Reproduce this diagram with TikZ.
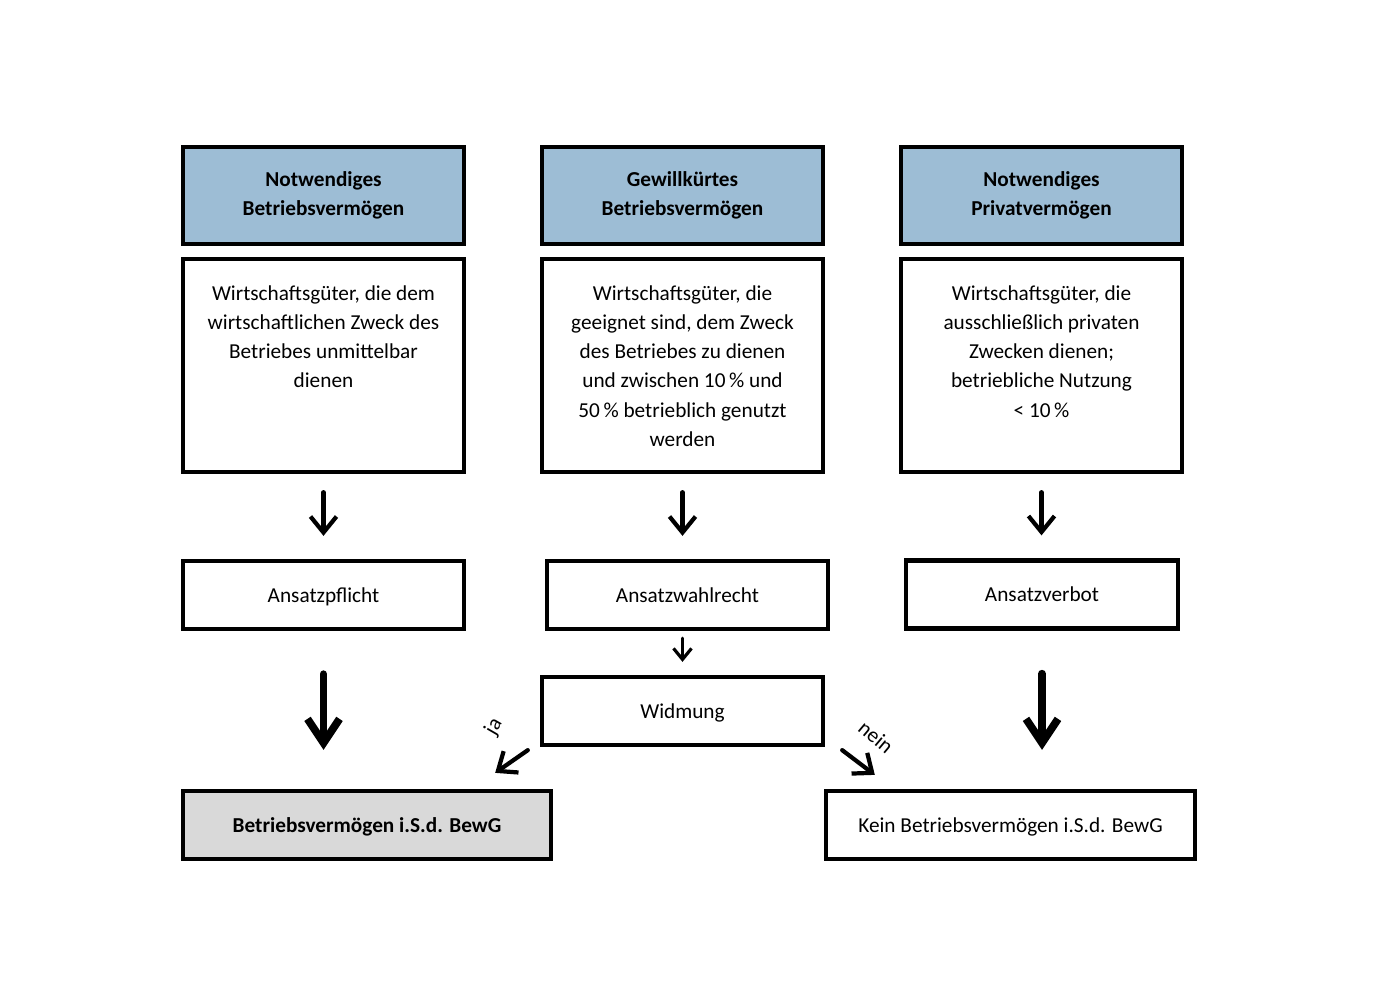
\documentclass[tikz,border=0pt]{standalone}
\usepackage{fontspec}
\setmainfont{Carlito}
\usetikzlibrary{arrows.meta}

\definecolor{hdrblue}{HTML}{9DBDD5}
\definecolor{resgray}{HTML}{D9D9D9}

\begin{document}
\begin{tikzpicture}[
  x=0.01cm, y=-0.01cm, font=\fontsize{6.05}{8.3}\selectfont,
  box/.style={rectangle, draw=black, line width=1.2pt, inner sep=0pt,
              align=center},
  hdr/.style={box, fill=hdrblue, minimum width=2.81cm, minimum height=0.97cm,
              font=\fontsize{6.05}{8.3}\selectfont\bfseries},
  desc/.style={box, minimum width=2.81cm, minimum height=2.13cm},
  desctxt/.style={anchor=north, inner sep=0pt, align=center},
  rule/.style={box, minimum height=0.68cm, text height=1.45ex, text depth=0.6ex},
  res/.style={box, minimum width=3.68cm, minimum height=0.68cm,
              text height=1.45ex, text depth=0.6ex},
  arr/.style={line width=1.2pt, line cap=round,
              -{Straight Barb[length=1.6mm, width=2.6mm, line width=1.2pt]}},
  bigarr/.style={line width=2.2pt, line cap=round,
              -{Straight Barb[length=2.4mm, width=3.2mm, line width=2.2pt]}},
  thinarr/.style={line width=0.9pt, line cap=round,
              -{Straight Barb[length=1.1mm, width=1.8mm, line width=0.9pt]}},
  lab/.style={inner sep=0pt}]

  \useasboundingbox (0,0) rectangle (1400,990);

  % ---- headers ----------------------------------------------------------
  \node[hdr] (h1) at (323.5,195.5) {Notwendiges\\Betriebsvermögen};
  \node[hdr] (h2) at (682.5,195.5) {Gewillkürtes\\Betriebsvermögen};
  \node[hdr] (h3) at (1041.5,195.5) {Notwendiges\\Privatvermögen};

  % ---- descriptions -----------------------------------------------------
  \node[desc] (d1) at (323.5,365.5) {};
  \node[desc] (d2) at (682.5,365.5) {};
  \node[desc] (d3) at (1041.5,365.5) {};
  \node[desctxt] (t1) at ([yshift=-0.28cm]d1.north)
    {Wirtschaftsgüter, die dem\\wirtschaftlichen Zweck des\\Betriebes unmittelbar\\dienen};
  \node[desctxt] (t2) at ([yshift=-0.28cm]d2.north)
    {Wirtschaftsgüter, die\\geeignet sind, dem Zweck\\des Betriebes zu dienen\\und zwischen 10\,\% und\\50\,\% betrieblich genutzt\\werden};
  \node[desctxt] (t3) at ([yshift=-0.28cm]d3.north)
    {Wirtschaftsgüter, die\\ausschließlich privaten\\Zwecken dienen;\\betriebliche Nutzung\\< 10\,\%};

  % ---- rules ------------------------------------------------------------
  \node[rule, minimum width=2.81cm] (a1) at (323.5,595) {Ansatzpflicht};
  \node[rule, minimum width=2.81cm] (a2) at (687.5,595) {Ansatzwahlrecht};
  \node[rule, minimum width=2.72cm] (a3) at (1042,594.5) {Ansatzverbot};
  \node[rule, minimum width=2.81cm] (wid) at (682.5,711) {Widmung};

  % ---- results ----------------------------------------------------------
  \node[res, fill=resgray, font=\fontsize{6.05}{8.3}\selectfont\bfseries] (bv)
    at (367,825) {Betriebsvermögen i.S.d. BewG};
  \node[res, minimum width=3.69cm] (kein) at (1010.5,825)
    {Kein Betriebsvermögen i.S.d. BewG};

  % ---- arrows -----------------------------------------------------------
  \draw[arr, shorten <=0.18cm, shorten >=0.23cm] (d1.south) -- (a1.north -| d1.south);
  \draw[arr, shorten <=0.18cm, shorten >=0.23cm] (d2.south) -- (a2.north -| d2.south);
  \draw[arr, shorten <=0.18cm, shorten >=0.23cm] (d3.south) -- (a3.north -| d3.south);
  \draw[thinarr, shorten <=0.07cm, shorten >=0.13cm] (a2.south -| wid.north) -- (wid.north);

  \draw[bigarr, shorten <=0.43cm, shorten >=0.39cm] (a1.south) -- (a1.south |- bv.north);
  \draw[bigarr, shorten <=0.43cm, shorten >=0.39cm] (a3.south) -- (a3.south |- kein.north);

  \draw[arr] ([xshift=-0.12cm, yshift=-0.03cm]wid.south west)
    -- ([xshift=-0.58cm, yshift=0.16cm]bv.north east);
  \draw[arr] ([xshift=0.17cm, yshift=-0.03cm]wid.south east)
    -- ([xshift=0.51cm, yshift=0.14cm]kein.north west);

  \node[lab, rotate=60] (ja) at (494,727) {ja};
  \node[lab, rotate=-40] (nein) at (876,737) {nein};
\end{tikzpicture}
\end{document}
